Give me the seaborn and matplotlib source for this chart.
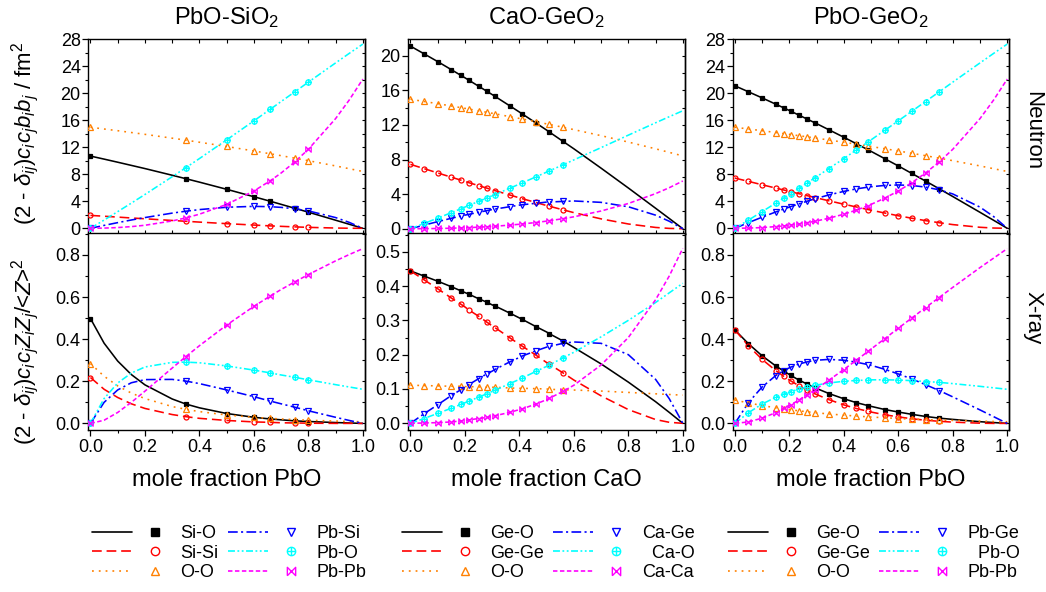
import numpy as np
import matplotlib
matplotlib.use("Agg")
import matplotlib.pyplot as plt
import seaborn as sns
from matplotlib.path import Path
from matplotlib.lines import Line2D
from matplotlib.legend_handler import HandlerTuple
from matplotlib.ticker import MultipleLocator

# ---------------- data ----------------
X_CURVE = [0, .05, .1, .15, .2, .3, .4, .5, .6, .7, .8, .9, .95, 1.0]

# PbO-SiO2
X_MARK_PS = [0, .35, .5, .6, .66, .75, .8]
PS_N_SiO = [10.70, 10.25, 9.79, 9.32, 8.85, 7.86, 6.84, 5.78, 4.68, 3.55, 2.39, 1.20, 0.60, 0.0]
PS_N_SiSi = [1.91, 1.79, 1.66, 1.53, 1.41, 1.16, 0.92, 0.69, 0.48, 0.29, 0.14, 0.04, 0.01, 0.0]
PS_N_OO = [14.97, 14.71, 14.46, 14.19, 13.92, 13.35, 12.75, 12.12, 11.46, 10.76, 10.02, 9.24, 8.83, 8.42]
PS_N_PbSi = [0.0, 0.43, 0.84, 1.23, 1.59, 2.25, 2.77, 3.12, 3.25, 3.10, 2.58, 1.59, 0.88, 0.0]
PS_N_PbO = [0.0, 1.22, 2.47, 3.73, 5.01, 7.64, 10.33, 13.10, 15.92, 18.78, 21.65, 24.50, 25.91, 27.29]
PS_N_PbPb = [0.0, 0.03, 0.11, 0.25, 0.45, 1.09, 2.09, 3.54, 5.53, 8.19, 11.70, 16.25, 19.00, 22.11]
PS_NM_SiO = [10.70, 7.35, 5.78, 4.68, 4.01, 2.97, 2.39]
PS_NM_SiSi = [1.91, 1.04, 0.69, 0.48, 0.36, 0.21, 0.14]
PS_NM_OO = [14.97, 13.06, 12.12, 11.46, 11.04, 10.39, 10.02]
PS_NM_PbSi = [0.0, 2.53, 3.12, 3.25, 3.20, 2.89, 2.58]
PS_NM_PbO = [0.0, 8.98, 13.10, 15.92, 17.63, 20.21, 21.65]
PS_NM_PbPb = [0.0, 1.54, 3.54, 5.53, 7.04, 9.83, 11.70]
PS_X_SiO = [0.498, 0.381, 0.296, 0.232, 0.183, 0.116, 0.074, 0.047, 0.029, 0.017, 0.009, 0.004, 0.002, 0.0]
PS_X_SiSi = [0.218, 0.162, 0.123, 0.093, 0.071, 0.042, 0.024, 0.014, 0.007, 0.003, 0.001, 0.0, 0.0, 0.0]
PS_X_OO = [0.284, 0.224, 0.178, 0.144, 0.118, 0.080, 0.056, 0.040, 0.029, 0.021, 0.015, 0.011, 0.009, 0.008]
PS_X_PbSi = [0.0, 0.100, 0.159, 0.193, 0.208, 0.209, 0.189, 0.159, 0.127, 0.093, 0.060, 0.029, 0.014, 0.0]
PS_X_PbO = [0.0, 0.118, 0.192, 0.239, 0.268, 0.290, 0.288, 0.273, 0.253, 0.230, 0.207, 0.184, 0.173, 0.162]
PS_X_PbPb = [0.0, 0.015, 0.052, 0.100, 0.153, 0.263, 0.369, 0.467, 0.556, 0.636, 0.707, 0.772, 0.802, 0.830]
PS_XM_SiO = [0.498, 0.092, 0.047, 0.029, 0.021, 0.012, 0.009]
PS_XM_SiSi = [0.218, 0.032, 0.014, 0.007, 0.005, 0.002, 0.001]
PS_XM_OO = [0.284, 0.067, 0.040, 0.029, 0.024, 0.018, 0.015]
PS_XM_PbSi = [0.0, 0.201, 0.159, 0.127, 0.106, 0.077, 0.060]
PS_XM_PbO = [0.0, 0.291, 0.273, 0.253, 0.240, 0.219, 0.207]
PS_XM_PbPb = [0.0, 0.317, 0.467, 0.556, 0.605, 0.672, 0.707]

# CaO-GeO2
X_MARK_CG = [0, .05, .1, .15, .185, .215, .25, .28, .31, .365, .41, .46, .51, .56]
CG_N_GeO = [21.11, 20.22, 19.32, 18.39, 17.45, 15.51, 13.49, 11.40, 9.24, 7.00, 4.71, 2.37, 1.19, 0.0]
CG_N_GeGe = [7.44, 6.95, 6.45, 5.96, 5.47, 4.50, 3.57, 2.68, 1.86, 1.14, 0.55, 0.15, 0.04, 0.0]
CG_N_OO = [14.97, 14.71, 14.46, 14.19, 13.92, 13.35, 12.75, 12.12, 11.46, 10.76, 10.02, 9.24, 8.83, 8.42]
CG_N_CaGe = [0.0, 0.42, 0.82, 1.21, 1.57, 2.22, 2.73, 3.08, 3.21, 3.05, 2.54, 1.57, 0.87, 0.0]
CG_N_CaO = [0.0, 0.61, 1.23, 1.86, 2.51, 3.82, 5.16, 6.55, 7.96, 9.38, 10.82, 12.25, 12.95, 13.64]
CG_N_CaCa = [0.0, 0.01, 0.03, 0.06, 0.11, 0.27, 0.52, 0.88, 1.38, 2.05, 2.92, 4.06, 4.74, 5.52]
CG_NM_GeO = [21.11, 20.22, 19.32, 18.39, 17.73, 17.16, 16.48, 15.90, 15.31, 14.20, 13.28, 12.24, 11.18, 10.10]
CG_NM_GeGe = [7.44, 6.95, 6.45, 5.96, 5.62, 5.32, 4.99, 4.70, 4.41, 3.90, 3.48, 3.04, 2.60, 2.19]
CG_NM_OO = [14.97, 14.71, 14.46, 14.19, 14.00, 13.83, 13.63, 13.46, 13.29, 12.96, 12.69, 12.38, 12.06, 11.73]
CG_NM_CaGe = [0.0, 0.42, 0.82, 1.21, 1.46, 1.67, 1.90, 2.09, 2.27, 2.55, 2.77, 2.94, 3.09, 3.16]
CG_NM_CaO = [0.0, 0.61, 1.23, 1.86, 2.31, 2.70, 3.16, 3.55, 3.95, 4.69, 5.30, 5.99, 6.69, 7.39]
CG_NM_CaCa = [0.0, 0.01, 0.03, 0.06, 0.10, 0.13, 0.18, 0.23, 0.29, 0.42, 0.55, 0.72, 0.93, 1.16]
CG_X_GeO = [0.444, 0.429, 0.414, 0.398, 0.381, 0.345, 0.307, 0.266, 0.221, 0.173, 0.120, 0.063, 0.032, 0.0]
CG_X_GeGe = [0.444, 0.418, 0.392, 0.365, 0.339, 0.284, 0.230, 0.177, 0.126, 0.080, 0.040, 0.011, 0.003, 0.0]
CG_X_OO = [0.111, 0.110, 0.109, 0.108, 0.107, 0.105, 0.102, 0.100, 0.097, 0.094, 0.090, 0.086, 0.084, 0.082]
CG_X_CaGe = [0.0, 0.028, 0.054, 0.081, 0.106, 0.152, 0.192, 0.222, 0.237, 0.233, 0.200, 0.128, 0.072, 0.0]
CG_X_CaO = [0.0, 0.014, 0.029, 0.044, 0.060, 0.093, 0.128, 0.166, 0.207, 0.252, 0.300, 0.352, 0.380, 0.408]
CG_X_CaCa = [0.0, 0.001, 0.002, 0.004, 0.008, 0.020, 0.040, 0.069, 0.111, 0.170, 0.250, 0.360, 0.429, 0.510]
CG_XM_GeO = [0.444, 0.429, 0.414, 0.398, 0.386, 0.376, 0.363, 0.353, 0.342, 0.321, 0.303, 0.282, 0.261, 0.240]
CG_XM_GeGe = [0.444, 0.418, 0.392, 0.365, 0.347, 0.330, 0.312, 0.295, 0.279, 0.249, 0.225, 0.199, 0.172, 0.147]
CG_XM_OO = [0.111, 0.110, 0.109, 0.108, 0.108, 0.107, 0.106, 0.105, 0.105, 0.103, 0.102, 0.101, 0.099, 0.098]
CG_XM_CaGe = [0.0, 0.028, 0.054, 0.081, 0.098, 0.113, 0.130, 0.144, 0.157, 0.179, 0.196, 0.211, 0.224, 0.233]
CG_XM_CaO = [0.0, 0.014, 0.029, 0.044, 0.055, 0.065, 0.076, 0.086, 0.096, 0.116, 0.132, 0.151, 0.170, 0.191]
CG_XM_CaCa = [0.0, 0.001, 0.002, 0.004, 0.007, 0.010, 0.014, 0.017, 0.022, 0.032, 0.042, 0.056, 0.073, 0.093]

# PbO-GeO2
X_MARK_PG = [0, .05, .1, .15, .18, .205, .235, .265, .295, .345, .4, .445, .49, .55, .6, .65, .7, .75]
PG_N_GeO = [21.11, 20.22, 19.32, 18.39, 17.45, 15.51, 13.49, 11.40, 9.24, 7.00, 4.71, 2.37, 1.19, 0.0]
PG_N_GeGe = [7.44, 6.95, 6.45, 5.96, 5.47, 4.50, 3.57, 2.68, 1.86, 1.14, 0.55, 0.15, 0.04, 0.0]
PG_N_OO = [14.97, 14.71, 14.46, 14.19, 13.92, 13.35, 12.75, 12.12, 11.46, 10.76, 10.02, 9.24, 8.83, 8.42]
PG_N_PbGe = [0.0, 0.84, 1.65, 2.42, 3.14, 4.44, 5.47, 6.16, 6.42, 6.11, 5.09, 3.14, 1.74, 0.0]
PG_N_PbO = [0.0, 1.22, 2.47, 3.73, 5.01, 7.64, 10.33, 13.10, 15.92, 18.78, 21.65, 24.50, 25.91, 27.29]
PG_N_PbPb = [0.0, 0.03, 0.11, 0.25, 0.45, 1.09, 2.09, 3.54, 5.53, 8.19, 11.70, 16.25, 19.00, 22.11]
PG_NM_GeO = [21.11, 20.22, 19.32, 18.39, 17.83, 17.35, 16.77, 16.19, 15.60, 14.60, 13.49, 12.55, 11.61, 10.32, 9.24, 8.12, 7.00, 5.86]
PG_NM_GeGe = [7.44, 6.95, 6.45, 5.96, 5.67, 5.42, 5.13, 4.84, 4.55, 4.08, 3.57, 3.17, 2.77, 2.27, 1.86, 1.49, 1.14, 0.83]
PG_NM_OO = [14.97, 14.71, 14.46, 14.19, 14.03, 13.89, 13.72, 13.55, 13.38, 13.08, 12.75, 12.47, 12.19, 11.79, 11.46, 11.11, 10.76, 10.39]
PG_NM_PbGe = [0.0, 0.84, 1.65, 2.42, 2.86, 3.21, 3.62, 4.01, 4.38, 4.94, 5.47, 5.83, 6.11, 6.35, 6.42, 6.34, 6.11, 5.70]
PG_NM_PbO = [0.0, 1.22, 2.47, 3.73, 4.50, 5.14, 5.93, 6.72, 7.51, 8.85, 10.33, 11.58, 12.82, 14.51, 15.92, 17.35, 18.78, 20.21]
PG_NM_PbPb = [0.0, 0.03, 0.11, 0.25, 0.36, 0.48, 0.64, 0.83, 1.05, 1.49, 2.09, 2.68, 3.37, 4.46, 5.53, 6.77, 8.19, 9.83]
PG_X_GeO = [0.444, 0.378, 0.321, 0.273, 0.232, 0.166, 0.117, 0.081, 0.054, 0.033, 0.019, 0.008, 0.004, 0.0]
PG_X_GeGe = [0.444, 0.368, 0.304, 0.251, 0.206, 0.137, 0.088, 0.054, 0.031, 0.015, 0.006, 0.001, 0.0, 0.0]
PG_X_OO = [0.111, 0.097, 0.085, 0.074, 0.065, 0.050, 0.039, 0.030, 0.023, 0.018, 0.014, 0.011, 0.009, 0.008]
PG_X_PbGe = [0.0, 0.099, 0.173, 0.227, 0.264, 0.300, 0.300, 0.276, 0.235, 0.184, 0.126, 0.064, 0.032, 0.0]
PG_X_PbO = [0.0, 0.051, 0.092, 0.124, 0.149, 0.182, 0.200, 0.207, 0.206, 0.199, 0.189, 0.176, 0.169, 0.162]
PG_X_PbPb = [0.0, 0.007, 0.025, 0.051, 0.085, 0.165, 0.256, 0.353, 0.452, 0.550, 0.646, 0.740, 0.785, 0.830]
PG_XM_GeO = [0.444, 0.378, 0.321, 0.273, 0.248, 0.228, 0.206, 0.187, 0.169, 0.142, 0.117, 0.099, 0.084, 0.066, 0.054, 0.043, 0.033, 0.025]
PG_XM_GeGe = [0.444, 0.368, 0.304, 0.251, 0.223, 0.202, 0.179, 0.158, 0.140, 0.113, 0.088, 0.071, 0.057, 0.041, 0.031, 0.022, 0.015, 0.010]
PG_XM_OO = [0.111, 0.097, 0.085, 0.074, 0.069, 0.064, 0.060, 0.055, 0.051, 0.045, 0.039, 0.035, 0.031, 0.027, 0.023, 0.021, 0.018, 0.016]
PG_XM_PbGe = [0.0, 0.099, 0.173, 0.227, 0.251, 0.267, 0.282, 0.292, 0.299, 0.304, 0.300, 0.291, 0.279, 0.257, 0.235, 0.211, 0.184, 0.156]
PG_XM_PbO = [0.0, 0.051, 0.092, 0.124, 0.139, 0.151, 0.163, 0.173, 0.181, 0.192, 0.200, 0.204, 0.206, 0.207, 0.206, 0.203, 0.199, 0.195]
PG_XM_PbPb = [0.0, 0.007, 0.025, 0.051, 0.071, 0.088, 0.111, 0.135, 0.160, 0.205, 0.256, 0.299, 0.343, 0.402, 0.452, 0.501, 0.550, 0.598]

LABELS_PS = ["Si-O", "Si-Si", "O-O", "Pb-Si", "Pb-O", "Pb-Pb"]
LABELS_CG = ["Ge-O", "Ge-Ge", "O-O", "Ca-Ge", "  Ca-O", "Ca-Ca"]
LABELS_PG = ["Ge-O", "Ge-Ge", "O-O", "Pb-Ge", "  Pb-O", "Pb-Pb"]

# ---------------- style ----------------
sns.set_theme(style="ticks")
plt.rcParams.update({
    "font.family": ["Liberation Sans", "DejaVu Sans"],
    "mathtext.fontset": "custom",
    "mathtext.rm": "Liberation Sans",
    "mathtext.it": "Liberation Sans:italic",
    "mathtext.bf": "Liberation Sans:bold",
    "lines.scale_dashes": False,
    "axes.linewidth": 1.0,
    "axes.edgecolor": "black",
    "xtick.color": "black",
    "ytick.color": "black",
    "text.color": "black",
    "axes.labelcolor": "black",
})

CIRCLE_PLUS = Path.make_compound_path(
    Path.unit_circle(),
    Path([(-1, 0), (1, 0), (0, -1), (0, 1)],
         [Path.MOVETO, Path.LINETO, Path.MOVETO, Path.LINETO]))
BOWTIE = Path([(-1, -1), (1, 1), (1, -1), (-1, 1), (-1, -1)],
              [Path.MOVETO, Path.LINETO, Path.LINETO, Path.LINETO, Path.LINETO])

STYLES = [
    dict(color="black", ls="-", marker="s", filled=True, ms=3.0),
    dict(color="#FF0000", ls=(0, (7, 3.5)), marker="o", filled=False, ms=3.6),
    dict(color="#FF8000", ls=(0, (1.3, 3.6)), marker="^", filled=False, ms=3.9),
    dict(color="#0000FF", ls=(0, (7, 2.4, 1.5, 2.4)), marker="v", filled=False, ms=3.9),
    dict(color="#00FFFF", ls=(0, (5, 1.8, 1.3, 1.8, 1.3, 1.8)), marker=CIRCLE_PLUS, filled=False, ms=3.9),
    dict(color="#FF00FF", ls=(0, (3.2, 1.8)), marker=BOWTIE, filled=False, ms=3.9),
]

PANELS = [
    dict(title="PbO-SiO$_2$", xlabel="mole fraction PbO", xm=X_MARK_PS, labels=LABELS_PS,
         neutron=[PS_N_SiO, PS_N_SiSi, PS_N_OO, PS_N_PbSi, PS_N_PbO, PS_N_PbPb],
         neutron_m=[PS_NM_SiO, PS_NM_SiSi, PS_NM_OO, PS_NM_PbSi, PS_NM_PbO, PS_NM_PbPb],
         xray=[PS_X_SiO, PS_X_SiSi, PS_X_OO, PS_X_PbSi, PS_X_PbO, PS_X_PbPb],
         xray_m=[PS_XM_SiO, PS_XM_SiSi, PS_XM_OO, PS_XM_PbSi, PS_XM_PbO, PS_XM_PbPb],
         ylim_n=(-0.77, 28), step_n=4, ylim_x=(-0.029, 0.902), step_x=0.2, left=88.3, leg=92),
    dict(title="CaO-GeO$_2$", xlabel="mole fraction CaO", xm=X_MARK_CG, labels=LABELS_CG,
         neutron=[CG_N_GeO, CG_N_GeGe, CG_N_OO, CG_N_CaGe, CG_N_CaO, CG_N_CaCa],
         neutron_m=[CG_NM_GeO, CG_NM_GeGe, CG_NM_OO, CG_NM_CaGe, CG_NM_CaO, CG_NM_CaCa],
         xray=[CG_X_GeO, CG_X_GeGe, CG_X_OO, CG_X_CaGe, CG_X_CaO, CG_X_CaCa],
         xray_m=[CG_XM_GeO, CG_XM_GeGe, CG_XM_OO, CG_XM_CaGe, CG_XM_CaO, CG_XM_CaCa],
         ylim_n=(-0.55, 21.9), step_n=4, ylim_x=(-0.018, 0.553), step_x=0.1, left=408.3, leg=402),
    dict(title="PbO-GeO$_2$", xlabel="mole fraction PbO", xm=X_MARK_PG, labels=LABELS_PG,
         neutron=[PG_N_GeO, PG_N_GeGe, PG_N_OO, PG_N_PbGe, PG_N_PbO, PG_N_PbPb],
         neutron_m=[PG_NM_GeO, PG_NM_GeGe, PG_NM_OO, PG_NM_PbGe, PG_NM_PbO, PG_NM_PbPb],
         xray=[PG_X_GeO, PG_X_GeGe, PG_X_OO, PG_X_PbGe, PG_X_PbO, PG_X_PbPb],
         xray_m=[PG_XM_GeO, PG_XM_GeGe, PG_XM_OO, PG_XM_PbGe, PG_XM_PbO, PG_XM_PbPb],
         ylim_n=(-0.77, 28), step_n=4, ylim_x=(-0.029, 0.902), step_x=0.2, left=732.7, leg=728),
]

W, H = 1046, 592
fig = plt.figure(figsize=(W / 100, H / 100), dpi=100)

AX_W = 276.7
TOP_Y0, MID_Y, BOT_Y1 = 39.3, 233.5, 429.5


def frac_rect(left, top, bottom):
    return [left / W, 1 - bottom / H, AX_W / W, (bottom - top) / H]


def draw_series(ax, xc, curves, xm, marks):
    for st, yc, ym in zip(STYLES, curves, marks):
        xs = np.concatenate([np.asarray(xc, float), np.asarray(xm, float)])
        ys = np.concatenate([np.asarray(yc, float), np.asarray(ym, float)])
        order = np.argsort(xs, kind="stable")
        xs, ys = xs[order], ys[order]
        keep = np.concatenate([[True], np.diff(xs) > 1e-9])
        sns.lineplot(x=xs[keep], y=ys[keep], ax=ax, color=st["color"], linestyle=st["ls"],
                     linewidth=1.15, estimator=None, sort=False, legend=False)
        ax.plot(xm, ym, ls="none", marker=st["marker"], ms=st["ms"],
                mfc=st["color"] if st["filled"] else "none", mec=st["color"], mew=0.9,
                zorder=3)


def style_y(ax, step):
    ax.yaxis.set_major_locator(MultipleLocator(step))
    ax.yaxis.set_minor_locator(MultipleLocator(step / 2))
    ax.tick_params(axis="y", which="major", direction="out", length=4, width=0.9,
                   labelsize=13, pad=1.5, left=True, right=False)
    ax.tick_params(axis="y", which="minor", direction="out", length=2.5, width=0.8, left=True, right=False)
    sec = ax.secondary_yaxis("right")
    sec.yaxis.set_major_locator(MultipleLocator(step))
    sec.yaxis.set_minor_locator(MultipleLocator(step / 2))
    sec.tick_params(which="both", direction="in", length=2.5, width=0.8, labelright=False)
    sec.spines["right"].set_linewidth(1.0)


for p in PANELS:
    ax_n = fig.add_axes(frac_rect(p["left"], TOP_Y0, MID_Y))
    ax_x = fig.add_axes(frac_rect(p["left"], MID_Y, BOT_Y1))

    draw_series(ax_n, X_CURVE, p["neutron"], p["xm"], p["neutron_m"])
    draw_series(ax_x, X_CURVE, p["xray"], p["xm"], p["xray_m"])

    for ax in (ax_n, ax_x):
        ax.set_xlim(-0.008, 1.008)
        ax.xaxis.set_major_locator(MultipleLocator(0.2))
        ax.xaxis.set_minor_locator(MultipleLocator(0.1))
        ax.set_xlabel("")
        ax.set_ylabel("")
        for s in ax.spines.values():
            s.set_linewidth(1.0)
            s.set_color("black")

    ax_n.set_ylim(*p["ylim_n"])
    ax_x.set_ylim(*p["ylim_x"])
    style_y(ax_n, p["step_n"])
    style_y(ax_x, p["step_x"])

    ax_n.tick_params(axis="x", which="both", direction="in", length=3, width=0.8,
                     top=True, bottom=True, labelbottom=False)
    ax_x.tick_params(axis="x", which="major", direction="out", length=4, width=0.9,
                     labelsize=13, pad=2.5, top=False)
    ax_x.tick_params(axis="x", which="minor", direction="out", length=2.5, width=0.8, top=False)

    ax_n.set_title(p["title"], fontsize=17, pad=11)
    ax_x.set_xlabel(p["xlabel"], fontsize=17, labelpad=10)

    # legend: line sample + symbol + label
    handles = []
    for st in STYLES:
        ln = Line2D([], [], color=st["color"], ls=st["ls"], lw=1.2)
        mk = Line2D([], [], ls="none", marker=st["marker"], ms=6.0,
                    mfc=st["color"] if st["filled"] else "none", mec=st["color"], mew=1.0)
        handles.append((ln, mk))
    fig.legend(handles, p["labels"], loc="upper left",
               bbox_to_anchor=(p["leg"] / W, 1 - 525 / H), ncol=2, frameon=False,
               fontsize=13, handlelength=4.6, handletextpad=0.3, columnspacing=0.5,
               labelspacing=0.14, borderpad=0, borderaxespad=0,
               handler_map={tuple: HandlerTuple(ndivide=None, pad=0.17)})

fig.text(25 / W, 1 - 133 / H, r"(2 - $\delta_{ij}$)$c_ic_jb_ib_j$ / fm$^2$",
         rotation=90, ha="center", va="center", fontsize=16)
fig.text(25 / W, 1 - 352 / H, r"(2 - $\delta_{ij}$)$c_ic_jZ_iZ_j$/<$Z$>$^2$",
         rotation=90, ha="center", va="center", fontsize=16)
fig.text(1033 / W, 1 - 131 / H, "Neutron", rotation=-90, ha="center", va="center", fontsize=16)
fig.text(1033 / W, 1 - 318 / H, "X-ray", rotation=-90, ha="center", va="center", fontsize=16)

fig.savefig("out.png", dpi=100)
